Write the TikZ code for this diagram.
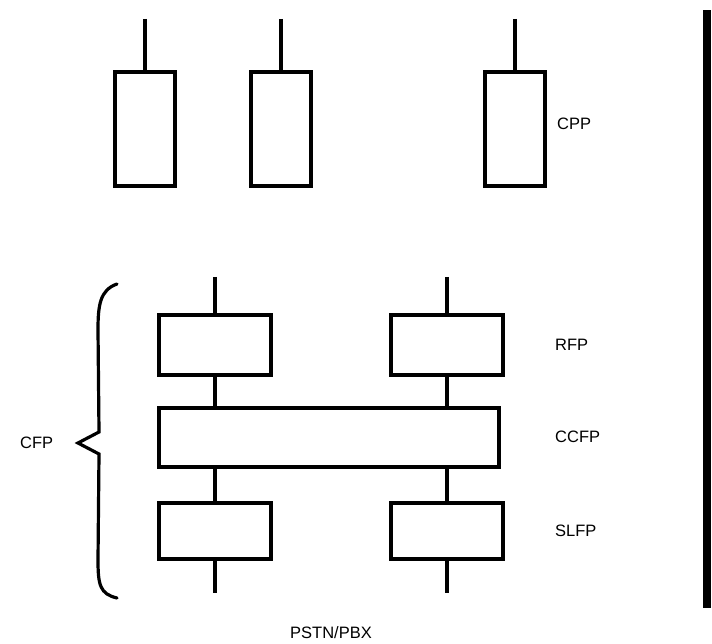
\documentclass[tikz,border=0pt]{standalone}
\usepackage{fontspec}
\setmainfont{Liberation Sans}
\begin{document}
\begin{tikzpicture}[x=1pt,y=-1pt,
  blk/.style={draw,line width=3.4pt,inner sep=0pt,rectangle},
  cppbox/.style={blk,minimum width=60pt,minimum height=114pt},
  fpbox/.style={blk,minimum width=112pt,minimum height=60pt},
  wire/.style={line width=3.4pt},
  lbl/.style={font=\fontsize{16.5}{18}\selectfont,inner sep=0pt,anchor=west}]
\useasboundingbox (0,0) rectangle (712,644);
% CPP
\node[cppbox] (c1) at (145,129) {};
\node[cppbox] (c2) at (281,129) {};
\node[cppbox] (c3) at (515,129) {};
\coordinate (t1) at (145,19);
\coordinate (t2) at (281,19);
\coordinate (t3) at (515,19);
\draw[wire] (t1) -- (c1.north);
\draw[wire] (t2) -- (c2.north);
\draw[wire] (t3) -- (c3.north);
\node[lbl] (cpp) at (557,124) {CPP};
% CFP
\node[fpbox] (r1) at (215,345) {};
\node[fpbox] (r2) at (447,345) {};
\node[blk,minimum width=340pt,minimum height=59pt] (cc) at (329,437.5) {};
\node[fpbox,minimum height=56pt] (s1) at (215,531) {};
\node[fpbox,minimum height=56pt] (s2) at (447,531) {};
\coordinate (u1) at (215,277);
\coordinate (u2) at (447,277);
\coordinate (d1) at (215,593);
\coordinate (d2) at (447,593);
\draw[wire] (u1) -- (r1.north);
\draw[wire] (u2) -- (r2.north);
\draw[wire] (r1.south) -- (r1.south |- cc.north);
\draw[wire] (r2.south) -- (r2.south |- cc.north);
\draw[wire] (s1.north |- cc.south) -- (s1.north);
\draw[wire] (s2.north |- cc.south) -- (s2.north);
\draw[wire] (s1.south) -- (d1);
\draw[wire] (s2.south) -- (d2);
\node[lbl] (rfp) at (555,345) {RFP};
\node[lbl] (ccfp) at (555,437) {CCFP};
\node[lbl] (slfp) at (555,531) {SLFP};
% brace
\coordinate (bt) at (117,284);
\coordinate (bb) at (117,598);
\coordinate (btip) at (78,443);
\draw[line width=3.2pt,line join=miter,line cap=round]
  (bt) .. controls (100,290) and (98,305) .. (98,330)
  -- (99,432) -- (btip) -- (99,454) -- (98,560)
  .. controls (98,585) and (100,594) .. (bb);
\node[lbl] (cfp) at (20,443) {CFP};
\node[font=\fontsize{16.5}{18}\selectfont,inner sep=0pt] (pstn) at (331,633) {PSTN/PBX};
% right bar
\fill (703,10) rectangle (711,608);
\end{tikzpicture}
\end{document}
